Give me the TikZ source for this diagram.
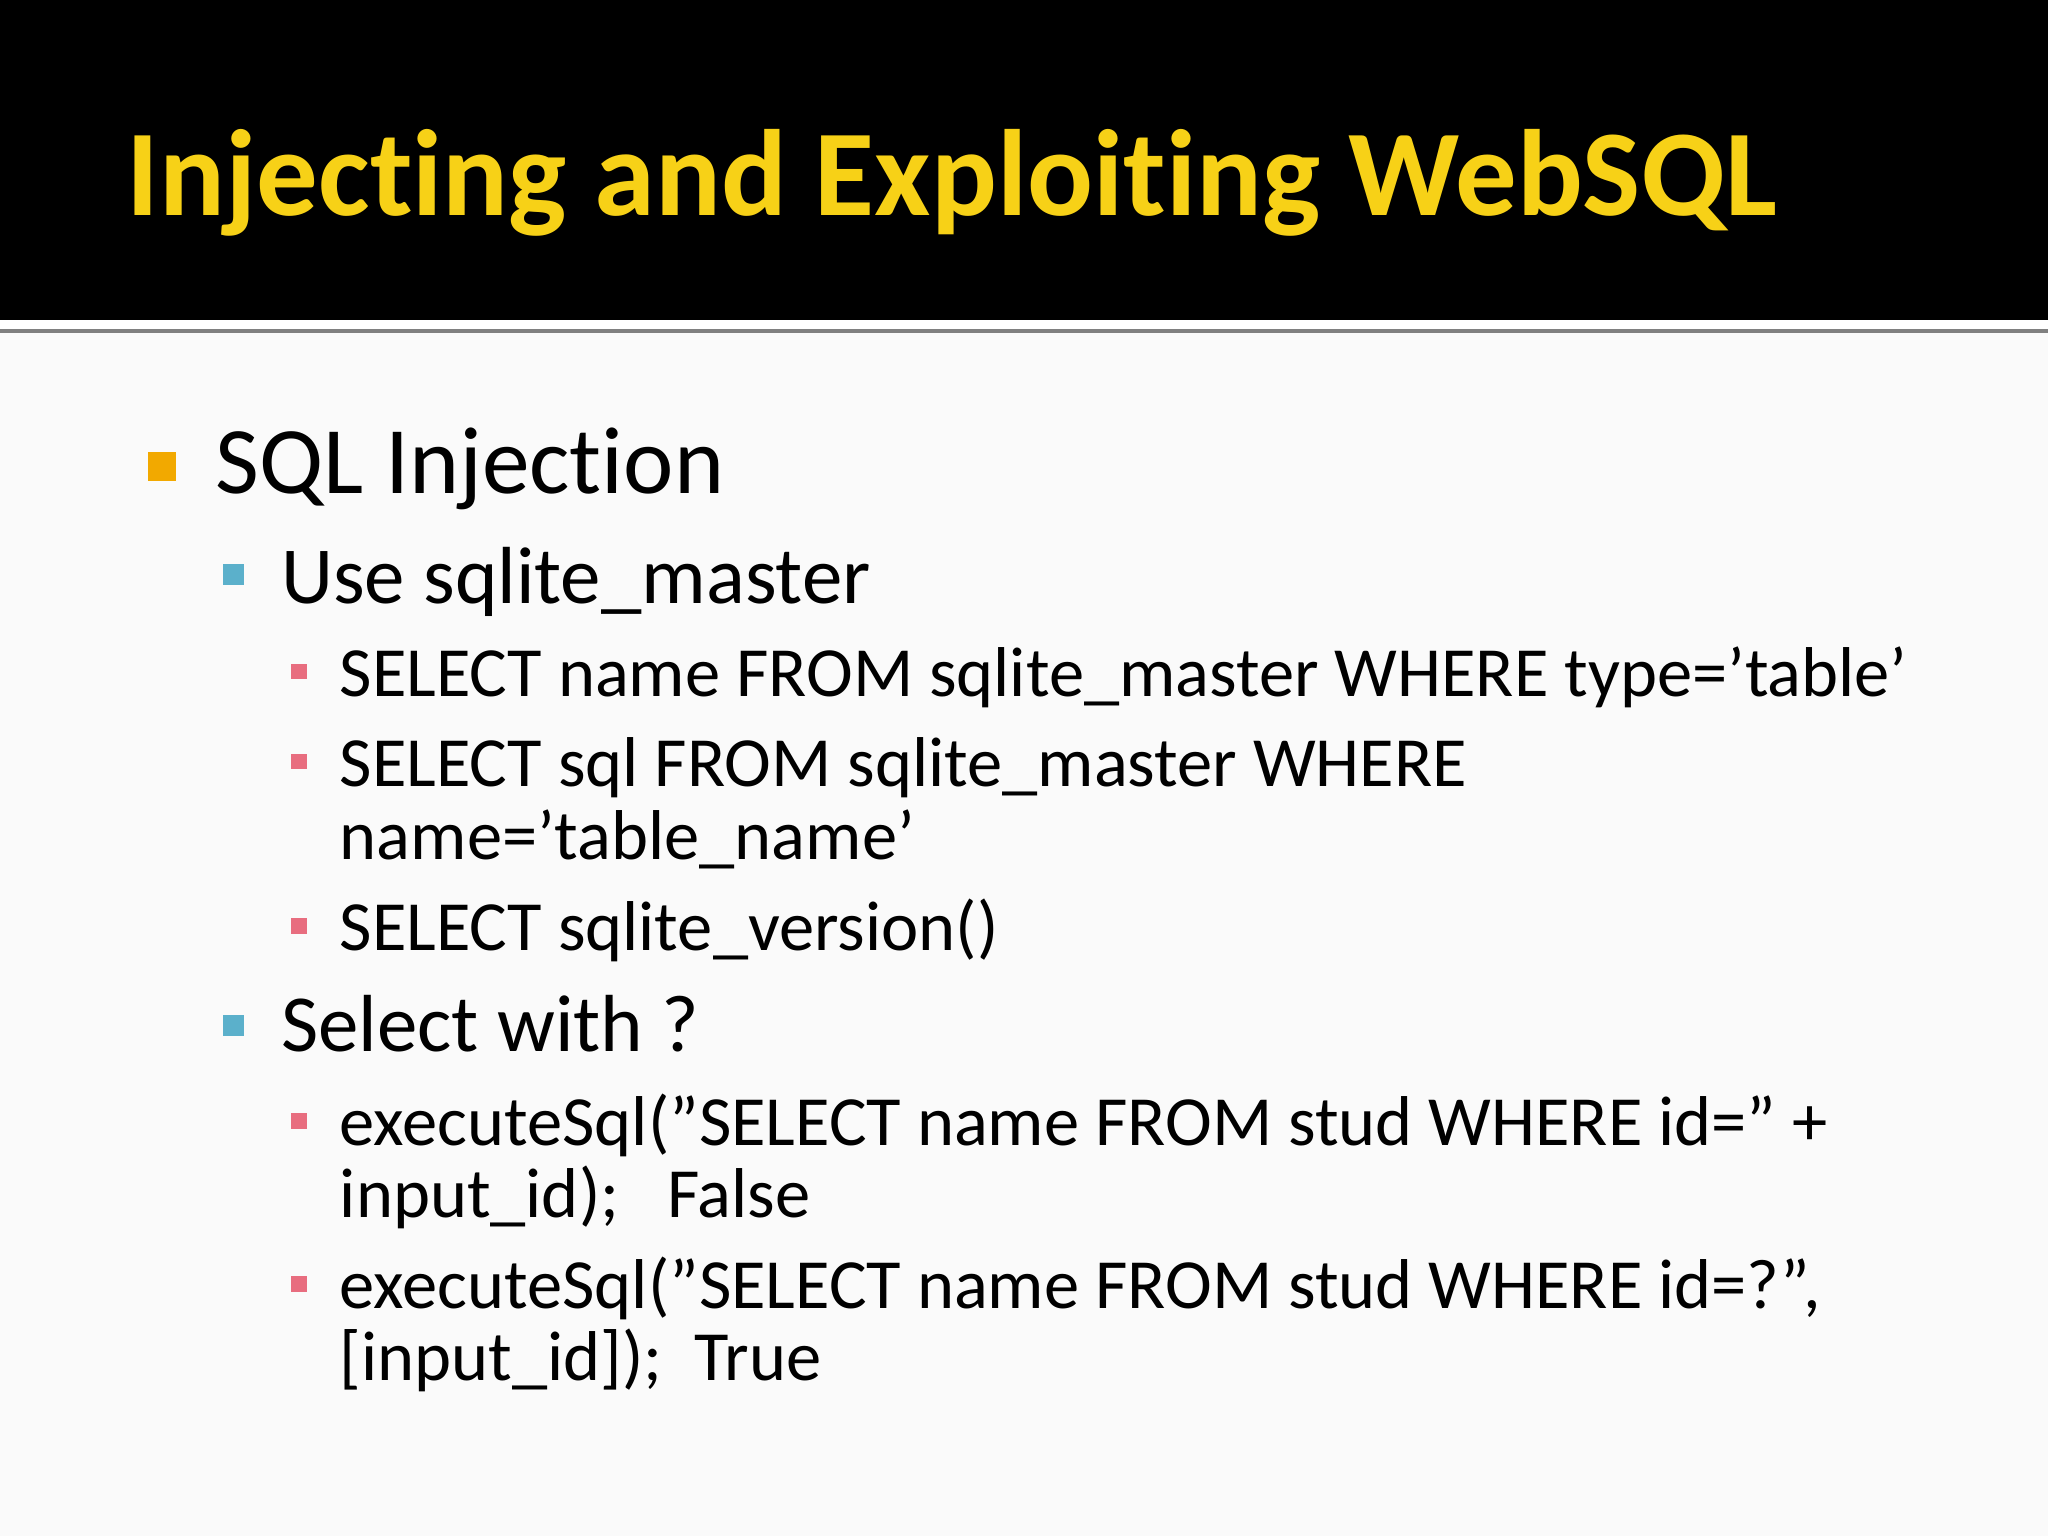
\documentclass[tikz,border=0pt]{standalone}
\usepackage{fontspec}
\setmainfont[Ligatures={NoCommon}]{Carlito}
\newcommand{\sq}{\symbol{39}}
\newcommand{\dq}{\symbol{34}}
\definecolor{ttl}{HTML}{F7D117}
\definecolor{bo}{HTML}{F2A900}
\definecolor{bb}{HTML}{5BB0CB}
\definecolor{bp}{HTML}{E86D7F}
\begin{document}
\begin{tikzpicture}[x=1pt,y=-1pt,
  t1/.style={anchor=base west,inner sep=0,font=\fontsize{73}{73}\selectfont},
  t2/.style={anchor=base west,inner sep=0,font=\fontsize{62}{62}\selectfont},
  t3/.style={anchor=base west,inner sep=0,font=\fontsize{54}{54}\selectfont}]
\useasboundingbox (0,0) rectangle (1568,1176);
\fill[white!98!black] (0,0) rectangle (1568,1176);
\fill[black] (0,0) rectangle (1568,245);
\fill[white] (0,245) rectangle (1568,252);
\fill[gray] (0,252) rectangle (1568,255);
\node[anchor=base west,inner sep=0,text=ttl,font=\fontsize{94}{94}\selectfont\bfseries] (title) at (97,165) {Injecting and Exploiting WebSQL};
% bullets
\fill[bo] (113,346) rectangle (135,368);
\fill[bb] (171,432) rectangle (187,448);
\fill[bb] (171,777) rectangle (187,793);
\foreach \y in {508,577,703,852,977} \fill[bp] (223,\y) rectangle (235,\y+12);
\node[t1] (a) at (165,378) {SQL Injection};
\node[t2] (b) at (215,462) {Use sqlite\_master};
\node[t3] (c1) at (260,533) {SELECT name FROM sqlite\_master WHERE type=\sq table\sq};
\node[t3] (c2) at (260,602) {SELECT sql FROM sqlite\_master WHERE};
\node[t3] (c2b) at (260,658) {name=\sq table\_name\sq};
\node[t3] (c3) at (260,728) {SELECT sqlite\_version()};
\node[t2] (d) at (215,805) {Select with ?};
\node[t3] (e1) at (260,877) {executeSql(\dq SELECT name FROM stud WHERE id=\dq\ +};
\node[t3] (e1b) at (260,932) {input\_id);\ \ \ False};
\node[t3] (e2) at (260,1002) {executeSql(\dq SELECT name FROM stud WHERE id=?\dq,};
\node[t3] (e2b) at (260,1057) {[input\_id]);\ \ True};
\end{tikzpicture}
\end{document}
